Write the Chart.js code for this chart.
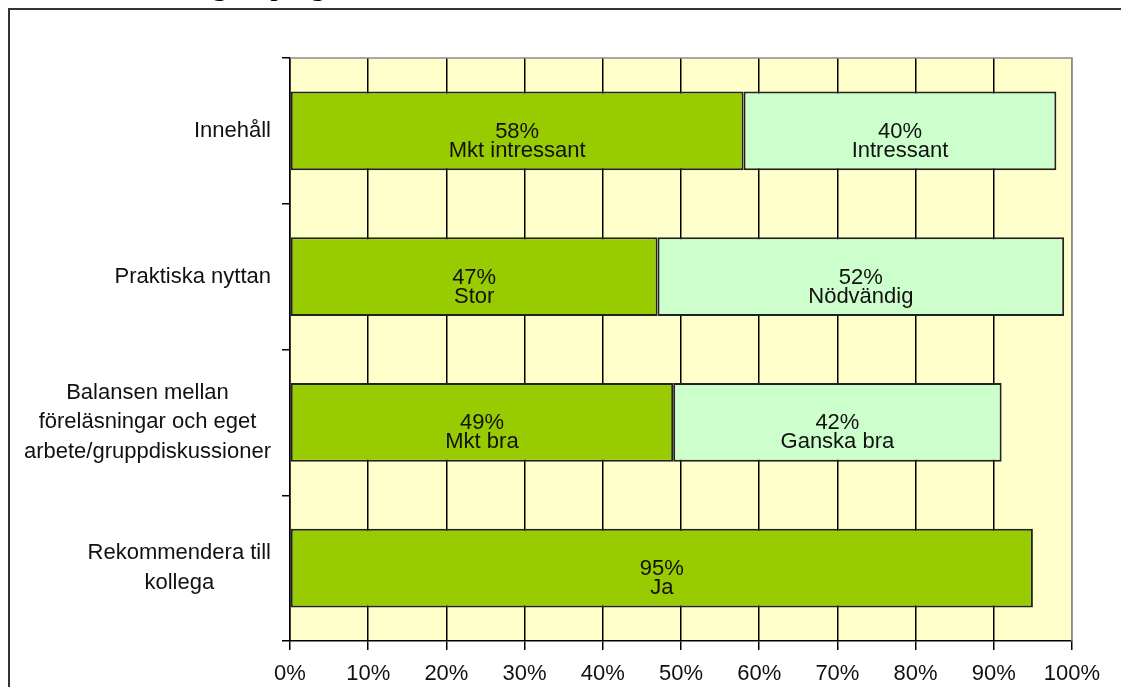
<!DOCTYPE html>
<html>
<head>
<meta charset="utf-8">
<script src="https://cdn.jsdelivr.net/npm/chart.js@4"></script>
<style>
  html, body { margin: 0; padding: 0; background: #fff; }
  #wrap { position: relative; width: 1121px; height: 687px; overflow: hidden; }
  canvas { display: block; }
</style>
</head>
<body>
<div id="wrap"><canvas id="surveyChart" width="1121" height="687"></canvas></div>
<script>
// categories (one entry per line of the label)
const categories = [
  ["Innehåll"],
  ["Praktiska nyttan"],
  ["Balansen mellan", "föreläsningar och eget", "arbete/gruppdiskussioner"],
  ["Rekommendera till", "kollega"],
];
// first answer (dark green) and second answer (light green), in percent
const firstValues = [58, 47, 49, 95];
const secondValues = [40, 52, 42, 0];
const firstAnswers = ["Mkt intressant", "Stor", "Mkt bra", "Ja"];
const secondAnswers = ["Intressant", "Nödvändig", "Ganska bra", ""];
const xTickValues = [0, 10, 20, 30, 40, 50, 60, 70, 80, 90, 100];
const pageTitle = "Utvärdering av programmet";

const darkGreen = "#99cc00";
const lightGreen = "#ccffcc";
const plotYellow = "#ffffcc";
const textColor = "#111";
const labelFont = '22px "Liberation Sans", Arial, sans-serif';

// page frame + cut-off heading, plot background
const backgroundPlugin = {
  id: "background",
  beforeDraw(chart) {
    const { ctx, chartArea } = chart;
    ctx.save();
    ctx.fillStyle = "#fff";
    ctx.fillRect(0, 0, chart.width, chart.height);
    ctx.font = '30px "Liberation Serif", "Times New Roman", serif';
    ctx.fillStyle = "#000";
    ctx.textBaseline = "alphabetic";
    ctx.fillText(pageTitle, 82, -5.5);
    ctx.strokeStyle = "#333";
    ctx.lineWidth = 2;
    ctx.beginPath();
    ctx.moveTo(9, chart.height + 2);
    ctx.lineTo(9, 9);
    ctx.lineTo(chart.width + 2, 9);
    ctx.stroke();
    ctx.fillStyle = plotYellow;
    ctx.fillRect(chartArea.left, chartArea.top, chartArea.right - chartArea.left, chartArea.bottom - chartArea.top);
    ctx.restore();
  },
  afterDraw(chart) {
    const { ctx, chartArea } = chart;
    ctx.save();
    ctx.strokeStyle = "#8c8c8c";
    ctx.lineWidth = 1.5;
    ctx.beginPath();
    ctx.moveTo(chartArea.left, chartArea.top);
    ctx.lineTo(chartArea.right, chartArea.top);
    ctx.lineTo(chartArea.right, chartArea.bottom);
    ctx.stroke();
    ctx.restore();
  },
};

// category labels: block right aligned, lines centred inside the block
const categoryLabelPlugin = {
  id: "categoryLabels",
  afterDraw(chart) {
    const { ctx } = chart;
    const yScale = chart.scales.y;
    const lineHeight = 29.5;
    const rightEdge = 271;
    ctx.save();
    ctx.font = labelFont;
    ctx.fillStyle = textColor;
    ctx.textAlign = "center";
    ctx.textBaseline = "middle";
    categories.forEach((lines, i) => {
      const y = yScale.getPixelForTick(i);
      const blockWidth = Math.max(...lines.map((l) => ctx.measureText(l).width));
      const cx = rightEdge - blockWidth / 2;
      const y0 = y - ((lines.length - 1) * lineHeight) / 2;
      lines.forEach((line, k) => ctx.fillText(line, cx, y0 + k * lineHeight));
    });
    ctx.restore();
  },
};

// "58%" + answer text inside each bar segment
const barLabelPlugin = {
  id: "barLabels",
  afterDatasetsDraw(chart) {
    const { ctx } = chart;
    const answers = [firstAnswers, secondAnswers];
    ctx.save();
    ctx.font = labelFont;
    ctx.fillStyle = textColor;
    ctx.textAlign = "center";
    ctx.textBaseline = "middle";
    chart.data.datasets.forEach((ds, d) => {
      chart.getDatasetMeta(d).data.forEach((bar, i) => {
        const v = ds.data[i];
        if (!v) return;
        const cx = (bar.x + bar.base) / 2;
        ctx.fillText(v + "%", cx, bar.y + 1);
        ctx.fillText(answers[d][i], cx, bar.y + 20);
      });
    });
    ctx.restore();
  },
};

new Chart(document.getElementById("surveyChart"), {
  type: "bar",
  data: {
    labels: categories,
    datasets: [
      {
        label: "first",
        data: firstValues,
        backgroundColor: darkGreen,
        borderColor: "#222",
        borderWidth: 2,
        borderSkipped: false,
        barPercentage: 0.54,
        categoryPercentage: 1,
      },
      {
        label: "second",
        data: secondValues,
        backgroundColor: lightGreen,
        borderColor: "#222",
        borderWidth: 2,
        borderSkipped: false,
        barPercentage: 0.54,
        categoryPercentage: 1,
      },
    ],
  },
  options: {
    indexAxis: "y",
    responsive: false,
    animation: false,
    devicePixelRatio: 1,
    layout: { padding: { top: 58, right: 49, left: 0, bottom: 0 } },
    plugins: {
      legend: { display: false },
      tooltip: { enabled: false },
    },
    scales: {
      x: {
        stacked: true,
        min: 0,
        max: 100,
        afterBuildTicks: (scale) => {
          scale.ticks = xTickValues.map((v) => ({ value: v }));
        },
        afterFit: (scale) => {
          scale.height = 46;
        },
        ticks: {
          callback: (v) => v + "%",
          color: textColor,
          font: { family: '"Liberation Sans", Arial, sans-serif', size: 22 },
          padding: 11,
          maxRotation: 0,
        },
        grid: {
          color: (c) => (c.tick && c.tick.value === 100 ? "#8c8c8c" : "#000"),
          tickColor: "#000",
          lineWidth: 1.5,
          tickLength: 9,
        },
        border: { color: "#000", width: 1.5 },
      },
      y: {
        stacked: true,
        afterFit: (scale) => {
          scale.width = 290;
        },
        ticks: { display: false },
        grid: {
          drawOnChartArea: false,
          color: "#000",
          lineWidth: 1.5,
          tickLength: 8,
          offset: true,
        },
        border: { color: "#000", width: 1.5 },
      },
    },
  },
  plugins: [backgroundPlugin, categoryLabelPlugin, barLabelPlugin],
});
</script>
</body>
</html>
